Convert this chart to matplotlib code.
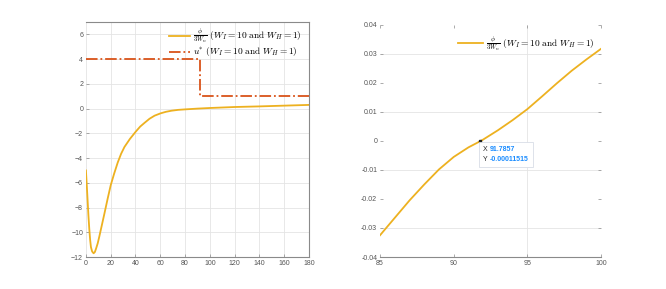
import matplotlib.pyplot as plt
import matplotlib as mpl
from matplotlib.offsetbox import AnnotationBbox, TextArea, HPacker, VPacker

mpl.rcParams['font.family'] = ['Liberation Sans', 'DejaVu Sans']
mpl.rcParams['mathtext.fontset'] = 'cm'

# left panel: phi/(3W_n) over the full range
phi_x = [0, 0.7, 1.35, 2, 2.7, 3.4, 4.05, 5, 6.2, 7.2, 8.1, 9.5, 10.8, 12.8, 14.9,
         17.5, 20, 22.8, 25.7, 28.4, 31.1, 35.5, 40.3, 43.8, 47.3, 51.3, 55.4,
         60.3, 64.5, 69, 74.5, 80.3, 90, 100, 120, 140, 160, 180]
phi_y = [-5.0, -6.2, -7.4, -8.6, -9.7, -10.6, -11.2, -11.55, -11.7, -11.6, -11.35,
         -10.9, -10.35, -9.45, -8.5, -7.3, -6.2, -5.25, -4.35, -3.65, -3.1, -2.45,
         -1.85, -1.45, -1.15, -0.82, -0.57, -0.38, -0.26, -0.17, -0.1, -0.06,
         0.0, 0.05, 0.13, 0.18, 0.24, 0.3]

# u* step
u_x = [0, 91.79, 91.79, 180]
u_y = [4, 4, 1, 1]

# right panel: zoom around zero crossing
zoom_x = [85, 86, 87, 88, 89, 90, 91, 91.79, 92, 93, 94, 95, 96, 97, 98, 99, 100]
zoom_y = [-0.0325, -0.0265, -0.0205, -0.015, -0.0098, -0.0055, -0.0022, -0.0001,
          0.0005, 0.0037, 0.0072, 0.011, 0.0154, 0.0199, 0.0242, 0.0281, 0.0318]

tip_x = 91.7857
tip_y = -0.00011515

lab_phi = r'$\frac{\phi}{3W_n}\ (W_I = 10\ \mathrm{and}\ W_H = 1)$'
lab_u = r'$u^{*}\ (W_I = 10\ \mathrm{and}\ W_H = 1)$'

yellow = '#EDB120'
orange = '#D95319'
tick_col = '#555555'
grid_col = '#e4e4e4'
axis_col = '#8a8a8a'

fig = plt.figure(figsize=(6.66, 2.89), dpi=100)
ax1 = fig.add_axes([0.129, 0.1107, 0.335, 0.813])
ax2 = fig.add_axes([0.5706, 0.1107, 0.332, 0.803])

# ——— left ———
ax1.plot(phi_x, phi_y, color=yellow, lw=1.3, label=lab_phi)
ax1.plot(u_x, u_y, color=orange, lw=1.3, ls='-.', label=lab_u)
ax1.set_xlim(0, 180)
ax1.set_ylim(-12, 7)
ax1.set_xticks(range(0, 181, 20))
ax1.set_yticks(range(-12, 7, 2))
ax1.grid(True, color=grid_col, lw=0.6)
ax1.set_axisbelow(True)
for s in ['top', 'right', 'bottom']:
    ax1.spines[s].set_color(axis_col)
    ax1.spines[s].set_linewidth(0.8)
ax1.spines['left'].set_visible(False)
ax1.tick_params(direction='in', length=2, width=0.5, colors=axis_col,
                labelcolor=tick_col, labelsize=5, pad=2)
ax1.legend(loc='upper right', fontsize=6.8, frameon=False,
           handlelength=2.2, handletextpad=0.3, labelspacing=0.0,
           borderaxespad=0.0, borderpad=0.0, bbox_to_anchor=(0.965, 0.98))

# ——— right ———
ax2.plot(zoom_x, zoom_y, color=yellow, lw=1.3, label=lab_phi)
ax2.set_xlim(85, 100)
ax2.set_ylim(-0.04, 0.04)
ax2.set_xticks([85, 90, 95, 100])
yt = [-0.04, -0.03, -0.02, -0.01, 0, 0.01, 0.02, 0.03, 0.04]
ax2.set_yticks(yt)
ax2.set_yticklabels(['-0.04', '-0.03', '-0.02', '-0.01', '0', '0.01', '0.02', '0.03', '0.04'])
for g in [-0.03, -0.01, 0.01, 0.03]:
    ax2.axhline(g, color=grid_col, lw=0.6, zorder=0)
ax2.axvline(95, color=grid_col, lw=0.6, zorder=0)
for s in ['top', 'right', 'left']:
    ax2.spines[s].set_visible(False)
ax2.spines['bottom'].set_color(axis_col)
ax2.spines['bottom'].set_linewidth(0.8)
ax2.tick_params(direction='in', length=2, width=0.5, colors=axis_col,
                labelcolor=tick_col, labelsize=5, pad=2, right=True, top=True)
ax2.legend(loc='upper right', fontsize=6.8, frameon=False,
           handlelength=2.6, handletextpad=0.3,
           borderaxespad=0.0, borderpad=0.0, bbox_to_anchor=(0.97, 0.96))

# data tip
ax2.plot([tip_x], [tip_y], 's', color='#222222', ms=2)
blue = '#1a8cff'
prop_k = dict(fontsize=5, color='#262626')
prop_b = dict(fontsize=5, color=blue, fontweight='bold')
row1 = HPacker(children=[TextArea('X', textprops=prop_k),
                         TextArea('91.7857', textprops=prop_b)], pad=0, sep=1.5)
row2 = HPacker(children=[TextArea('Y', textprops=prop_k),
                         TextArea('-0.00011515', textprops=prop_b)], pad=0, sep=1.5)
tip = VPacker(children=[row1, row2], pad=0, sep=2, align='left')
ab = AnnotationBbox(tip, (tip_x, tip_y), xybox=(2, -3.5), xycoords='data',
                    boxcoords='offset points', box_alignment=(0, 1),
                    frameon=True, pad=0.3,
                    bboxprops=dict(fc='white', ec='#d8dde6', lw=0.6))
ax2.add_artist(ab)

plt.savefig('out.png', dpi=100)
